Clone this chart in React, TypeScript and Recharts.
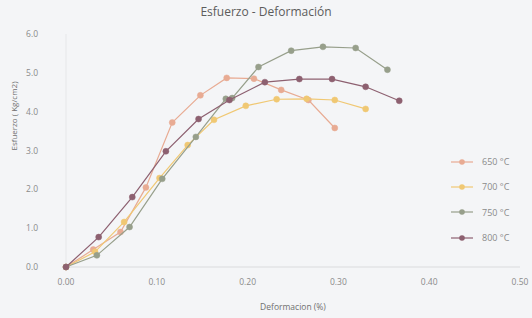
import React from 'react';
import {
  ScatterChart,
  Scatter,
  XAxis,
  YAxis,
} from 'recharts';

const SERIES_NAMES = ['650 °C', '700 °C', '750 °C', '800 °C'];

const S650 = [
  { x: 0, y: 0 }, { x: 0.03, y: 0.45 }, { x: 0.06, y: 0.9 }, { x: 0.088, y: 2.05 },
  { x: 0.117, y: 3.72 }, { x: 0.148, y: 4.42 }, { x: 0.177, y: 4.87 }, { x: 0.207, y: 4.85 },
  { x: 0.237, y: 4.56 }, { x: 0.267, y: 4.3 }, { x: 0.296, y: 3.58 },
];
const S700 = [
  { x: 0, y: 0 }, { x: 0.032, y: 0.39 }, { x: 0.064, y: 1.16 }, { x: 0.103, y: 2.29 },
  { x: 0.134, y: 3.14 }, { x: 0.163, y: 3.79 }, { x: 0.198, y: 4.15 }, { x: 0.232, y: 4.32 },
  { x: 0.265, y: 4.33 }, { x: 0.296, y: 4.3 }, { x: 0.33, y: 4.07 },
];
const S750 = [
  { x: 0, y: 0 }, { x: 0.034, y: 0.3 }, { x: 0.07, y: 1.03 }, { x: 0.106, y: 2.27 },
  { x: 0.143, y: 3.35 }, { x: 0.176, y: 4.33 }, { x: 0.183, y: 4.35 }, { x: 0.212, y: 5.15 },
  { x: 0.248, y: 5.57 }, { x: 0.283, y: 5.67 }, { x: 0.319, y: 5.64 }, { x: 0.354, y: 5.08 },
];
const S800 = [
  { x: 0, y: 0 }, { x: 0.036, y: 0.77 }, { x: 0.073, y: 1.8 }, { x: 0.11, y: 2.98 },
  { x: 0.146, y: 3.81 }, { x: 0.18, y: 4.3 }, { x: 0.219, y: 4.76 }, { x: 0.257, y: 4.84 },
  { x: 0.293, y: 4.84 }, { x: 0.33, y: 4.64 }, { x: 0.367, y: 4.28 },
];

const X_TICKS = [0, 0.1, 0.2, 0.3, 0.4, 0.5];
const Y_TICKS = [0, 1, 2, 3, 4, 5, 6];

const COLORS = ['#e8ab93', '#f0c873', '#979f8b', '#8d6070'];
const DATA = [S650, S700, S750, S800];

const FONT = '"Open Sans", "Liberation Sans", sans-serif';

const Dot = (props: any) => {
  const { cx, cy, fill } = props;
  if (cx == null || cy == null) return null;
  return <circle cx={cx} cy={cy} r={3} fill={fill} stroke={fill} strokeOpacity={0.5} strokeWidth={1} />;
};

// legend sits over the plot, like the original
const LegendBox = () => (
  <div style={{ position: 'absolute', top: 149, left: 450, fontFamily: FONT, fontSize: 9, color: '#8a8a8a' }}>
    {SERIES_NAMES.map((name, i) => (
      <div key={name} style={{ display: 'flex', alignItems: 'center', height: 25.3 }}>
        <svg width={24} height={10}>
          <line x1={1} y1={5} x2={23} y2={5} stroke={COLORS[i]} strokeWidth={1.2} />
          <circle cx={12} cy={5} r={2.8} fill={COLORS[i]} />
        </svg>
        <span style={{ marginLeft: 8 }}>{name}</span>
      </div>
    ))}
  </div>
);

export default function App() {
  return (
    <div style={{ position: 'absolute', top: 0, left: 0, width: 532, height: 318, background: '#f4f5f7' }}>
      <div
        style={{
          position: 'absolute', top: 3, left: 0, width: 532, textAlign: 'center',
          fontFamily: FONT, fontSize: 12, color: '#5c5c5c',
        }}
      >
        Esfuerzo - Deformación
      </div>
      <ScatterChart width={532} height={318} margin={{ top: 34, right: 12, bottom: 0, left: 0 }}>
        <XAxis
          type="number"
          dataKey="x"
          domain={[0, 0.5]}
          ticks={X_TICKS}
          tickFormatter={(v: number) => v.toFixed(2)}
          tickLine={false}
          axisLine={{ stroke: '#dadbdd' }}
          tick={{ fill: '#8a8a8a', fontSize: 8.5, fontFamily: FONT }}
          tickMargin={6}
          height={51}
          label={{ value: 'Deformacion (%)', position: 'insideBottom', offset: 8, fill: '#707070', fontSize: 8.5, fontFamily: FONT }}
        />
        <YAxis
          type="number"
          dataKey="y"
          domain={[0, 6]}
          ticks={Y_TICKS}
          tickFormatter={(v: number) => v.toFixed(1)}
          tickLine={false}
          axisLine={{ stroke: '#e6e7e9' }}
          tick={{ fill: '#8a8a8a', fontSize: 8.5, fontFamily: FONT }}
          tickMargin={22}
          width={66}
          label={{ value: 'Esfuerzo ( Kg/cm2)', angle: -90, position: 'insideLeft', offset: 14, dy: 0, fill: '#707070', fontSize: 8, fontFamily: FONT }}
        />
        {DATA.map((d, i) => (
          <Scatter
            key={SERIES_NAMES[i]}
            name={SERIES_NAMES[i]}
            data={d}
            fill={COLORS[i]}
            line={{ stroke: COLORS[i], strokeWidth: 1.2 }}
            shape={<Dot />}
            isAnimationActive={false}
          />
        ))}
      </ScatterChart>
      <LegendBox />
    </div>
  );
}
